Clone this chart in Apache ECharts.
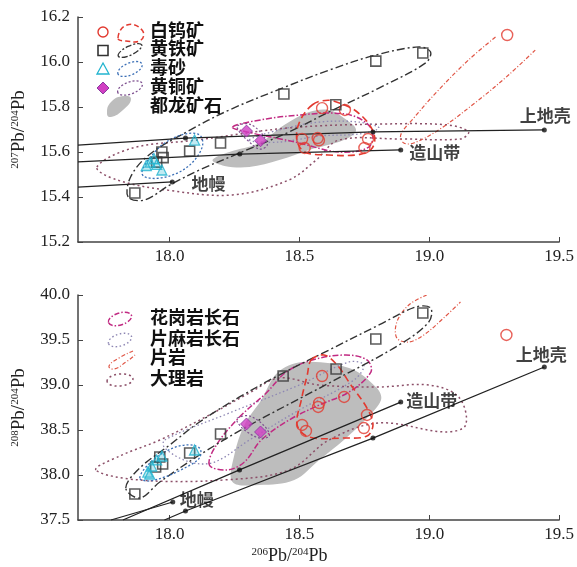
<!DOCTYPE html>
<html>
<head>
<meta charset="utf-8">
<title>Pb isotope diagram</title>
<script src="https://cdn.jsdelivr.net/npm/echarts@6/dist/echarts.min.js"></script>
<style>
  html, body { margin: 0; padding: 0; background: #fff; }
  #chart { width: 577px; height: 567px; }
</style>
</head>
<body>
<div id="chart"></div>
<script>
// x = 206Pb/204Pb, top y = 207Pb/204Pb, bottom y = 208Pb/204Pb
var xTicks = [18.0, 18.5, 19.0, 19.5];

// 白钨矿 scheelite
var scheeliteTop = [[19.30,16.12],[18.587,15.795],[18.675,15.787],[18.51,15.658],[18.52,15.618],[18.57,15.662],[18.575,15.652],[18.764,15.658],[18.75,15.618]];
var scheeliteBot = [[19.297,39.556],[18.587,39.10],[18.672,38.867],[18.576,38.80],[18.572,38.756],[18.51,38.556],[18.525,38.489],[18.76,38.667],[18.748,38.522]];
// 黄铁矿 pyrite
var pyriteTop = [[17.866,15.418],[17.97,15.60],[17.975,15.575],[17.95,15.555],[18.077,15.604],[18.196,15.64],[18.44,15.858],[18.64,15.81],[18.794,16.004],[18.975,16.04]];
var pyriteBot = [[17.866,37.789],[17.962,38.20],[17.973,38.122],[17.946,38.089],[18.077,38.244],[18.196,38.456],[18.437,39.10],[18.641,39.178],[18.794,39.511],[18.975,39.80]];
// 毒砂 arsenopyrite
var arsenoTop = [[17.91,15.54],[17.925,15.555],[17.94,15.57],[17.95,15.545],[17.97,15.52],[18.096,15.653]];
var arsenoBot = [[17.916,38.033],[17.931,38.10],[17.95,38.167],[17.97,38.211],[17.923,38.011],[18.096,38.278]];
// 黄铜矿 chalcopyrite
var chalcoTop = [[18.296,15.693],[18.35,15.65]];
var chalcoBot = [[18.296,38.567],[18.35,38.478]];

// field outlines
var scheeliteFieldTop = [[18.55,15.81],[18.61,15.83],[18.67,15.81],[18.72,15.78],[18.77,15.72],[18.79,15.66],[18.775,15.61],[18.72,15.587],[18.61,15.587],[18.52,15.60],[18.49,15.653],[18.50,15.733]];
var pyriteFieldTop = [[17.84,15.40],[17.85,15.49],[17.92,15.587],[18.065,15.689],[18.23,15.787],[18.434,15.884],[18.614,15.964],[18.794,16.031],[18.96,16.067],[19.005,16.044],[18.986,15.996],[18.806,15.884],[18.614,15.778],[18.46,15.689],[18.27,15.596],[18.115,15.52],[18.0,15.453],[17.904,15.387]];
var arsenoFieldTop = [[17.893,15.511],[17.923,15.573],[17.981,15.64],[18.058,15.68],[18.115,15.676],[18.127,15.631],[18.096,15.564],[18.038,15.511],[17.962,15.484],[17.904,15.489]];
var chalcoFieldTop = [[18.261,15.716],[18.307,15.724],[18.353,15.684],[18.376,15.631],[18.345,15.613],[18.299,15.653],[18.269,15.689]];
var oreFieldTop = [[18.165,15.564],[18.23,15.60],[18.345,15.64],[18.441,15.72],[18.537,15.778],[18.614,15.787],[18.671,15.751],[18.718,15.698],[18.671,15.653],[18.537,15.609],[18.422,15.564],[18.307,15.533],[18.211,15.538]];
var graniteFieldTop = [[18.242,15.711],[18.372,15.747],[18.499,15.764],[18.625,15.773],[18.718,15.756],[18.779,15.698],[18.767,15.622],[18.652,15.60],[18.499,15.64],[18.411,15.662],[18.318,15.684]];
var gneissFieldTop = [[18.307,15.653],[18.422,15.698],[18.576,15.733],[18.729,15.733],[18.806,15.707],[18.729,15.68],[18.576,15.671],[18.422,15.644]];
var schistFieldTop = [[19.255,16.111],[19.151,16.009],[19.036,15.876],[18.94,15.751],[18.89,15.676],[18.902,15.64],[18.94,15.64],[19.036,15.698],[19.19,15.831],[19.305,15.942],[19.408,16.053]];
var marbleFieldTop = [[17.72,15.533],[17.858,15.618],[18.104,15.653],[18.46,15.707],[18.806,15.724],[19.074,15.72],[19.151,15.689],[19.12,15.658],[18.883,15.658],[18.652,15.653],[18.564,15.564],[18.46,15.476],[18.242,15.409],[17.988,15.431],[17.797,15.476]];

var scheeliteFieldBot = [[18.545,39.278],[18.595,39.333],[18.645,39.222],[18.698,39.0],[18.76,38.744],[18.783,38.556],[18.76,38.433],[18.671,38.411],[18.537,38.422],[18.491,38.556],[18.507,38.833],[18.53,39.111]];
var pyriteFieldBot = [[17.831,37.856],[17.885,38.078],[18.0,38.333],[18.115,38.589],[18.269,38.867],[18.422,39.111],[18.614,39.389],[18.806,39.667],[18.948,39.867],[19.005,39.856],[18.998,39.70],[18.883,39.444],[18.614,39.022],[18.295,38.533],[18.115,38.222],[17.962,37.922],[17.885,37.744]];
var arsenoFieldBot = [[17.885,37.967],[17.916,38.111],[17.981,38.256],[18.058,38.333],[18.115,38.30],[18.115,38.189],[18.058,38.078],[17.981,37.978],[17.916,37.933]];
var chalcoFieldBot = [[18.261,38.633],[18.307,38.656],[18.365,38.544],[18.384,38.433],[18.345,38.411],[18.288,38.50],[18.261,38.589]];
var oreFieldBot = [[18.242,37.922],[18.249,38.222],[18.288,38.556],[18.353,38.833],[18.414,39.133],[18.51,39.256],[18.691,39.189],[18.798,38.967],[18.814,38.833],[18.76,38.633],[18.671,38.389],[18.576,38.167],[18.48,37.944],[18.345,37.889]];
var graniteFieldBot = [[18.153,38.111],[18.18,38.333],[18.269,38.644],[18.372,38.911],[18.449,39.144],[18.549,39.278],[18.679,39.333],[18.76,39.278],[18.775,39.144],[18.691,38.922],[18.576,38.778],[18.46,38.611],[18.353,38.389],[18.288,38.144],[18.223,38.056]];
var gneissFieldBot = [[17.981,38.389],[18.23,38.689],[18.499,39.0],[18.691,39.256],[18.748,39.222],[18.71,39.056],[18.499,38.722],[18.307,38.389],[18.173,38.144],[18.077,38.144],[17.981,38.30]];
var schistFieldBot = [[18.99,40.0],[18.921,39.889],[18.875,39.70],[18.875,39.522],[18.921,39.478],[18.979,39.556],[19.055,39.744],[19.12,39.922]];
var marbleFieldBot = [[17.716,38.056],[17.808,38.211],[17.962,38.389],[18.153,38.667],[18.307,38.911],[18.422,39.078],[18.576,39.0],[18.806,38.978],[18.998,39.0],[19.113,38.867],[19.14,38.556],[19.063,38.478],[18.806,38.578],[18.614,38.389],[18.46,38.056],[18.203,37.944],[17.885,37.944]];

// plumbotectonic growth curves
var crustTop = [[17.647,15.631],[18.061,15.662],[18.783,15.689],[19.443,15.698]];
var orogenTop = [[17.647,15.556],[18.27,15.591],[18.89,15.609]];
var mantleTop = [[17.647,15.444],[18.01,15.467]];
var dotsTop = [[18.061,15.662],[18.783,15.689],[19.443,15.698],[18.27,15.591],[18.89,15.609],[18.01,15.467]];
var crustBot = [[17.98,37.50],[18.061,37.60],[18.783,38.41],[19.443,39.20]];
var orogenBot = [[17.82,37.50],[18.269,38.056],[18.89,38.81]];
var mantleBot = [[17.774,37.50],[18.012,37.70]];
var dotsBot = [[18.061,37.60],[18.783,38.41],[19.443,39.20],[18.269,38.056],[18.89,38.81],[18.012,37.70]];

var curveNames = ['上地壳', '造山带', '地幔'];
var curveLabelTop = [[19.447,15.764],[19.021,15.596],[18.15,15.462]];
var curveLabelBot = [[19.431,39.333],[19.009,38.822],[18.104,37.722]];

var legendTop = ['白钨矿', '黄铁矿', '毒砂', '黄铜矿', '都龙矿石'];
var legendBot = ['花岗岩长石', '片麻岩长石', '片岩', '大理岩'];

var C = {
  red: '#e2392f', black: '#333', cyan: '#22b4cf', blue: '#3b6fb6',
  mauve: '#7d4f8f', magenta: '#c12a82', gneiss: '#8d86b3', schist: '#e05545',
  marble: '#8c4f68', ore: '#bdbdbd', line: '#222'
};
var serif = 'Liberation Serif';
var cjk = 'Noto Sans CJK SC';

var myChart = echarts.init(document.getElementById('chart'));

function field(idx, pts, style, closed, z) {
  return {
    type: 'custom', xAxisIndex: idx, yAxisIndex: idx,
    data: [pts[0]], silent: true, clip: true, z: z,
    renderItem: function (params, api) {
      var p = pts.map(function (d) { return api.coord(d); });
      return {
        type: closed ? 'polygon' : 'polyline',
        shape: { points: p, smooth: 0.35 },
        style: style
      };
    }
  };
}
function stroke(color, dash, w) {
  return { fill: 'none', stroke: color, lineWidth: w || 1.3, lineDash: dash };
}
function curve(idx, pts) {
  return {
    type: 'line', xAxisIndex: idx, yAxisIndex: idx, data: pts,
    showSymbol: false, symbol: 'none', silent: true, z: 4,
    lineStyle: { color: C.line, width: 1.3 }
  };
}
function marks(idx, pts, symbol, size, itemStyle) {
  return {
    type: 'scatter', xAxisIndex: idx, yAxisIndex: idx, data: pts,
    symbol: symbol, symbolSize: size, itemStyle: itemStyle, z: 6, silent: true
  };
}
function curveLabels(idx, pts) {
  return {
    type: 'scatter', xAxisIndex: idx, yAxisIndex: idx, symbolSize: 0, z: 7, silent: true,
    data: pts.map(function (p, i) { return { name: curveNames[i], value: p }; }),
    label: { show: true, position: 'inside', formatter: '{b}', fontFamily: cjk, fontWeight: 'bold',
      fontSize: 17, color: '#111' }
  };
}
function fields(idx, f) {
  return [
    field(idx, f.ore, { fill: C.ore, stroke: 'none' }, true, 1),
    field(idx, f.marble, stroke(C.marble, [2, 3], 1.5), true, 2),
    field(idx, f.gneiss, stroke(C.gneiss, [1.5, 2.5], 1.3), true, 2),
    field(idx, f.granite, stroke(C.magenta, [6, 2, 1.5, 2], 1.5), true, 2),
    field(idx, f.schist, stroke(C.schist, [4, 2, 1, 2], 1.2), false, 2),
    field(idx, f.pyrite, stroke(C.black, [8, 3, 2, 3], 1.4), true, 3),
    field(idx, f.arseno, stroke(C.blue, [2, 2], 1.3), true, 3),
    field(idx, f.chalco, stroke(C.mauve, [2, 2], 1.2), true, 3),
    field(idx, f.scheelite, stroke(C.red, [7, 4], 1.6), true, 3)
  ];
}
function points(idx, s) {
  return [
    marks(idx, s.scheelite, 'circle', 11, { color: 'rgba(255,255,255,0)', borderColor: C.red, borderWidth: 1.4 }),
    marks(idx, s.pyrite, 'rect', 10, { color: 'rgba(255,255,255,0)', borderColor: C.black, borderWidth: 1.6 }),
    marks(idx, s.arseno, 'triangle', 10, { color: 'rgba(34,180,207,0.35)', borderColor: C.cyan, borderWidth: 1.3 }),
    marks(idx, s.chalco, 'diamond', 12, { color: '#d13fc3', borderColor: '#8a3aa0', borderWidth: 1 })
  ];
}

function xAxis(idx, withName) {
  var ax = {
    type: 'value', gridIndex: idx, min: 17.647, max: 19.5,
    axisLine: { lineStyle: { color: '#444', width: 1.5 } },
    axisTick: { inside: true, length: 5, customValues: xTicks, lineStyle: { color: '#444' } },
    axisLabel: { customValues: xTicks, margin: 6, fontFamily: serif, fontSize: 17, color: '#222',
      formatter: function (v) { return v.toFixed(1); } },
    splitLine: { show: false }
  };
  if (withName) {
    ax.name = '{s|206}Pb/{s|204}Pb';
    ax.nameLocation = 'middle';
    ax.nameGap = 27;
    ax.nameTextStyle = { fontFamily: serif, fontSize: 18, color: '#222', padding: [0, 58, 0, 0],
      rich: { s: { fontFamily: serif, fontSize: 11, color: '#222', verticalAlign: 'top' } } };
  }
  return ax;
}
function yAxis(idx, min, max, step, a) {
  return {
    type: 'value', gridIndex: idx, min: min, max: max, interval: step,
    name: '{s|' + a + '}Pb/{s|204}Pb', nameLocation: 'middle', nameRotate: 90, nameGap: 49,
    nameTextStyle: { fontFamily: serif, fontSize: 19, color: '#222',
      rich: { s: { fontFamily: serif, fontSize: 11, color: '#222', verticalAlign: 'top' } } },
    axisLine: { show: true, lineStyle: { color: '#444', width: 1.5 } },
    axisTick: { show: true, inside: true, length: 5, lineStyle: { color: '#444' } },
    axisLabel: { margin: 8, fontFamily: serif, fontSize: 17, color: '#222',
      formatter: function (v) { return v.toFixed(1); } },
    splitLine: { show: false }
  };
}

// hand drawn legend keys
function legendText(x, y, t) {
  return { type: 'text', left: x, top: y - 11,
    style: { text: t, font: 'bold 18px "' + cjk + '"', fill: '#111' }, z: 10 };
}
function key(type, shape, style, rot, cx, cy) {
  var g = { type: type, shape: shape, style: style, z: 10 };
  if (rot) { g.rotation = rot; g.originX = cx; g.originY = cy; }
  return g;
}
var tY = [32, 50.5, 69, 88, 107];
var bY = [319, 340, 359, 380];
var graphics = [
  key('circle', { cx: 103, cy: tY[0], r: 5 }, { fill: 'none', stroke: C.red, lineWidth: 1.4 }),
  key('polygon', { points: [[118, 38], [127, 25], [142, 30], [141, 40], [126, 41]], smooth: 0.5 }, stroke(C.red, [5, 3], 1.5)),
  key('rect', { x: 98, y: tY[1] - 5, width: 10, height: 10 }, { fill: 'none', stroke: C.black, lineWidth: 1.6 }),
  key('ellipse', { cx: 130, cy: tY[1], rx: 13, ry: 4.5 }, stroke(C.black, [6, 2, 2, 2], 1.3), 0.45, 130, tY[1]),
  key('polygon', { points: [[103, tY[2] - 6], [109, tY[2] + 5], [97, tY[2] + 5]] }, { fill: 'none', stroke: C.cyan, lineWidth: 1.3 }),
  key('ellipse', { cx: 130, cy: tY[2], rx: 13, ry: 6 }, stroke(C.blue, [2, 2], 1.3), 0.4, 130, tY[2]),
  key('polygon', { points: [[103, tY[3] - 6], [109, tY[3]], [103, tY[3] + 6], [97, tY[3]]] }, { fill: '#d13fc3', stroke: '#8a3aa0', lineWidth: 1 }),
  key('ellipse', { cx: 130, cy: tY[3], rx: 13, ry: 6 }, stroke(C.mauve, [2, 2], 1.3), 0.35, 130, tY[3]),
  key('polygon', { points: [[107, 114], [111, 102], [124, 96], [131, 99], [123, 110], [111, 117]], smooth: 0.5 }, { fill: C.ore }),
  key('ellipse', { cx: 120, cy: bY[0], rx: 12, ry: 6 }, stroke(C.magenta, [5, 2, 1.5, 2], 1.5), 0.3, 120, bY[0]),
  key('ellipse', { cx: 120, cy: bY[1], rx: 12, ry: 6 }, stroke(C.gneiss, [1.5, 2.5], 1.4), 0.3, 120, bY[1]),
  key('polyline', { points: [[133, 351], [119, 358], [109, 366], [114, 369], [126, 362], [135, 355]], smooth: 0.5 }, stroke(C.schist, [4, 2, 1, 2], 1.2)),
  key('ellipse', { cx: 120, cy: bY[3], rx: 13, ry: 6 }, stroke(C.marble, [2, 3], 1.5), 0.1, 120, bY[3])
];
legendTop.forEach(function (t, i) { graphics.push(legendText(150, tY[i], t)); });
legendBot.forEach(function (t, i) { graphics.push(legendText(150, bY[i], t)); });

var series = [].concat(
  fields(0, { ore: oreFieldTop, marble: marbleFieldTop, gneiss: gneissFieldTop, granite: graniteFieldTop,
    schist: schistFieldTop, pyrite: pyriteFieldTop, arseno: arsenoFieldTop, chalco: chalcoFieldTop, scheelite: scheeliteFieldTop }),
  fields(1, { ore: oreFieldBot, marble: marbleFieldBot, gneiss: gneissFieldBot, granite: graniteFieldBot,
    schist: schistFieldBot, pyrite: pyriteFieldBot, arseno: arsenoFieldBot, chalco: chalcoFieldBot, scheelite: scheeliteFieldBot }),
  [curve(0, crustTop), curve(0, orogenTop), curve(0, mantleTop),
   curve(1, crustBot), curve(1, orogenBot), curve(1, mantleBot),
   marks(0, dotsTop, 'circle', 5, { color: '#111' }),
   marks(1, dotsBot, 'circle', 5, { color: '#111' }),
   curveLabels(0, curveLabelTop), curveLabels(1, curveLabelBot)],
  points(0, { scheelite: scheeliteTop, pyrite: pyriteTop, arseno: arsenoTop, chalco: chalcoTop }),
  points(1, { scheelite: scheeliteBot, pyrite: pyriteBot, arseno: arsenoBot, chalco: chalcoBot })
);

myChart.setOption({
  backgroundColor: '#fff',
  animation: false,
  grid: [
    { left: 78, right: 16, top: 17, height: 225 },
    { left: 78, right: 16, top: 295, height: 225 }
  ],
  xAxis: [xAxis(0, false), xAxis(1, true)],
  yAxis: [yAxis(0, 15.2, 16.2, 0.2, '207'), yAxis(1, 37.5, 40.0, 0.5, '208')],
  graphic: graphics,
  series: series
});
</script>
</body>
</html>
